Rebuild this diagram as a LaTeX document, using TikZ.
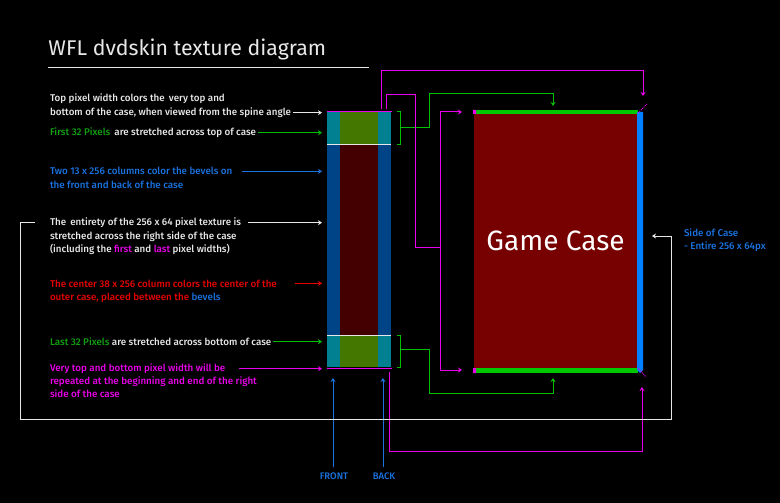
\documentclass[tikz,border=0pt]{standalone}
\usepackage{fontspec}
\setmainfont{Fira Sans}
\newfontfamily\medfont{Fira Sans Medium}
\usetikzlibrary{arrows.meta,positioning}

\definecolor{tealc}{RGB}{0,128,144}
\definecolor{olivec}{RGB}{68,119,0}
\definecolor{bevelc}{RGB}{0,68,136}
\definecolor{centerc}{RGB}{68,0,0}
\definecolor{casered}{RGB}{119,0,0}
\definecolor{casegreen}{RGB}{0,200,0}
\definecolor{caseblue}{RGB}{0,128,255}
\definecolor{wiregreen}{RGB}{0,190,0}
\definecolor{txtgreen}{RGB}{17,160,17}
\definecolor{txtblue}{RGB}{25,115,225}
\definecolor{txtred}{RGB}{230,0,0}
\definecolor{mag}{RGB}{235,0,235}
\definecolor{txtwhite}{RGB}{232,232,232}

\begin{document}
\begin{tikzpicture}
[x=1pt, y=-1pt, line width=1pt,
>={Stealth[length=4pt,width=5pt]},
txt/.style={anchor=base west, inner sep=1.5pt, text=txtwhite, font=\medfont\fontsize{9.8}{11}\selectfont},
lbl/.style={anchor=base, inner sep=1pt, text=txtblue, font=\medfont\fontsize{9.5}{11}\selectfont},
band/.style={inner sep=0, anchor=north west},
]
\fill[black] (0,0) rectangle (780,503);

% title
\node[anchor=base west, inner sep=0, text=txtwhite, font=\fontsize{21.3}{24}\selectfont] (title) at (48,56) {WFL dvdskin texture diagram};
\draw[txtwhite] (title.base west |- 0,67.5) -- (369,67.5);

% texture strip
\node[band, minimum width=64, minimum height=255] (strip) at (327,112) {};
\fill[tealc] (327,112) rectangle (391,144);
\fill[olivec] (340,112) rectangle (378,144);
\fill[bevelc] (327,144) rectangle (391,335);
\fill[centerc] (340,144) rectangle (378,335);
\fill[tealc] (327,335) rectangle (391,367);
\fill[olivec] (340,335) rectangle (378,367);
\draw[txtwhite] (327,144) -- (391,144) (327,335) -- (391,335);
\draw[mag] (strip.north west) -- (strip.north east) (strip.south west) -- (strip.south east);
\coordinate (tip) at (322,0);

% texts on the left
\node[txt] (topA) at (48,102) {Top pixel width colors the\, very top and};
\node[txt] (topB) at (48,115.5) {bottom of the case, when viewed from the spine angle};
\node[txt] (firstpx) at (48,135.5) {\textcolor{txtgreen}{First 32 Pixels}\, are stretched across top of case};
\node[txt, text=txtblue] (bevelA) at (48,175) {Two 13 x 256 columns color the bevels on};
\node[txt, text=txtblue] (bevelB) at (48,188) {the front and back of the case};
\node[txt] (wholeA) at (48,225.5) {The\, entirety of the 256 x 64 pixel texture is};
\node[txt] (wholeB) at (48,239) {stretched across the right side of the case};
\node[txt] (wholeC) at (48,252) {(including the \textcolor{mag}{first} and \textcolor{mag}{last} pixel widths)};
\node[txt, text=txtred] (centerA) at (48,287) {The center 38 x 256 column colors the center of the};
\node[txt, text=txtred] (centerB) at (48,300) {outer case, placed between the \textcolor{txtblue}{bevels}};
\node[txt] (lastpx) at (48,345.5) {\textcolor{txtgreen}{Last 32 Pixels} are stretched across bottom of case};
\node[txt, text=mag] (edgeA) at (48,371.5) {Very top and bottom pixel width will be};
\node[txt, text=mag] (edgeB) at (48,384.5) {repeated at the beginning and end of the right};
\node[txt, text=mag] (edgeC) at (48,397.5) {side of the case};

\draw[->, txtwhite] (topB.east) -- (topB.east -| tip);
\draw[->, wiregreen] (firstpx.east) -- (firstpx.east -| tip);
\draw[->, txtblue] ([xshift=8]bevelA.east) -- (bevelA.east -| tip);
\draw[->, txtwhite] ([xshift=5]wholeA.east) -- (wholeA.east -| tip);
\draw[->, txtred] ([xshift=16]centerA.east) -- (centerA.east -| tip);
\draw[->, wiregreen] (lastpx.east) -- (lastpx.east -| tip);
\draw[->, mag] ([xshift=12]edgeA.east) -- (edgeA.east -| tip);

% front and back
\node[lbl] (front) at (334,479) {FRONT};
\node[lbl] (back) at (384,479) {BACK};
\draw[->, txtblue] (front.north -| 333,0) ++(0,-4) -- (333,378);
\draw[->, txtblue] (back.north -| 383,0) ++(0,-4) -- (383,378);

% game case
\node[band, fill=casered, minimum width=164, minimum height=255] (case) at (473,113) {};
\node[text=white, font=\fontsize{28}{30}\selectfont, inner sep=0] (casetxt) at (case.center) {Game Case};
\fill[casegreen] (476,110) rectangle (638,114);
\fill[casegreen] (476,368) rectangle (638,373);
\fill[caseblue] (637,112) -- (643,112) -- (643,370) -- (640,373) -- (637,370) -- cycle;
\fill[mag] (473,110) rectangle (476,114) (473,368) rectangle (476,373);
\draw[mag, densely dotted] (638,113) -- (647,104) (638,368) -- (646,377);

\node[txt, text=txtblue] (sideA) at (682,236.5) {Side of Case};
\node[txt, text=txtblue] (sideB) at (682,249.5) {- Entire 256 x 64px};

% green brackets and routes
\draw[wiregreen] (397,112) -- (400,112) -- (400,144) -- (397,144);
\draw[wiregreen] (397,335) -- (400,335) -- (400,367) -- (397,367);
\draw[->, wiregreen] (400,128) -- (429,128) -- (429,94) -- (553,94) -- (553,106);
\draw[->, wiregreen] (400,349) -- (429,349) -- (429,393) -- (553,393) -- (553,378);

% magenta routes
\draw[->, mag] (381,109) -- (381,71) -- (643,71) -- (643,96);
\draw[mag] (386,109) -- (386,95) -- (415,95) -- (415,247) -- (440,247);
\draw[->, mag] (440,247) -- (440,112) -- (462,112);
\draw[->, mag] (440,247) -- (440,370) -- (462,370);
\draw[->, mag] (389,372) -- (389,451) -- (642,451) -- (642,387);

% white route
\coordinate (wstart) at (35,222);
\coordinate (wend) at (652,236);
\draw[->, txtwhite] (wstart) -- (20,222) -- (20,419) -- (671,419) -- (671,236) -- (wend);

\useasboundingbox (0,0) rectangle (780,503);
\end{tikzpicture}
\end{document}
